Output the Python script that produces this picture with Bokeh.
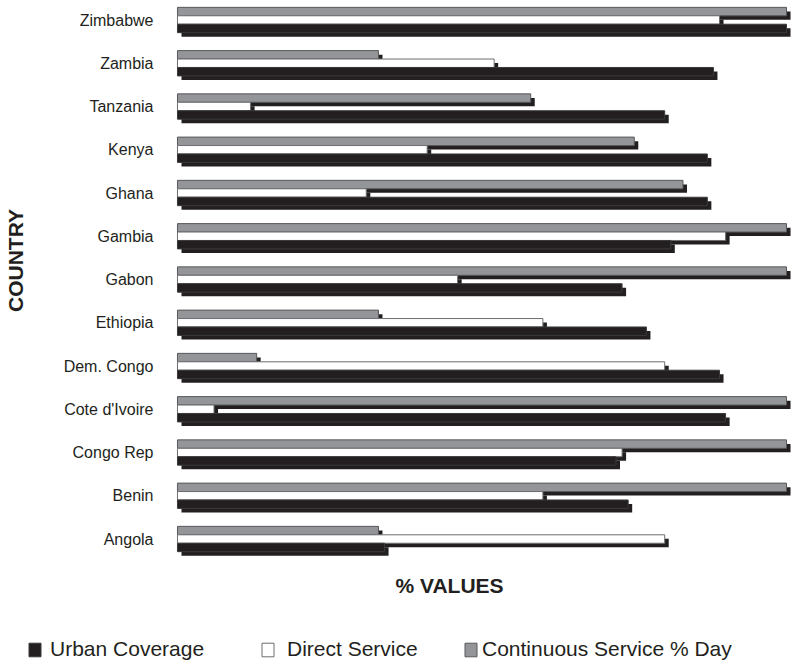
from math import pi

from bokeh.core.properties import value
from bokeh.embed import file_html
from bokeh.models import ColumnDataSource, Label, Legend, LegendItem, Range1d
from bokeh.plotting import figure
from bokeh.resources import INLINE
from bokeh.transform import dodge

# Water service indicators by country (%)
countries = ["Zimbabwe", "Zambia", "Tanzania", "Kenya", "Ghana", "Gambia", "Gabon",
             "Ethiopia", "Dem. Congo", "Cote d'Ivoire", "Congo Rep", "Benin", "Angola"]
urban_coverage = [100, 88, 80, 87, 87, 81, 73, 77, 89, 90, 72, 74, 34]
direct_service = [89, 52, 12, 41, 31, 90, 46, 60, 80, 6, 73, 60, 80]
continuous_service = [100, 33, 58, 75, 83, 100, 100, 33, 13, 100, 100, 100, 33]

series_labels = ["Urban Coverage", "Direct Service", "Continuous Service % Day"]

FONT = "Liberation Sans"
INK = "#231f20"
BAR_H = 0.195         # bar thickness in row units
SHADOW_DX = 0.66      # drop-shadow offset along x (value units)
SHADOW_DY = -0.093    # drop-shadow offset along y (row units)

# first country on top: row index counts up from the bottom
rows = [len(countries) - 1 - i for i in range(len(countries))]

source = ColumnDataSource(dict(
    country=countries,
    row=rows,
    urban=urban_coverage,
    direct=direct_service,
    continuous=continuous_service,
))

# the plotting frame spans the whole canvas; labels and legend sit in its margins
p = figure(
    width=791, height=662,
    x_range=Range1d(-29.06, 100.82),
    y_range=Range1d(-2.855, 12.451),
    output_backend="svg", toolbar_location=None,
    min_border=0,
)
p.outline_line_color = None
p.grid.visible = False
p.axis.visible = False

# top-to-bottom inside each group: continuous (grey), direct (white), urban (black)
layers = [
    ("continuous", BAR_H, "#939598", "#58595b", series_labels[2]),
    ("direct", 0.0, "#ffffff", "#6d6e71", series_labels[1]),
    ("urban", -BAR_H, INK, "#3a3a3c", series_labels[0]),
]

bar_renderers = {}
for field, offset, fill, line, label in layers:
    p.hbar(y=dodge("row", offset + SHADOW_DY), left=SHADOW_DX,
           right=dodge(field, SHADOW_DX), height=BAR_H,
           source=source, fill_color=INK, line_color=None)
    r = p.hbar(y=dodge("row", offset), left=0, right=field, height=BAR_H,
               source=source, fill_color=fill, line_color=line, line_width=1)
    bar_renderers[label] = r

# country names to the left of the bars
p.text(x=0, y="row", text="country", source=source, x_offset=-24,
       text_align="right", text_baseline="middle", text_font=value(FONT),
       text_font_size="16px", text_color=INK)

# axis titles
p.add_layout(Label(x=15, y=662 - 260, x_units="screen", y_units="screen",
                   text="COUNTRY", angle=pi / 2, text_align="center",
                   text_baseline="middle", text_font=FONT, text_font_style="bold",
                   text_font_size="21px", text_color=INK))
p.add_layout(Label(x=449, y=662 - 585, x_units="screen", y_units="screen",
                   text="% VALUES", text_align="center", text_baseline="middle",
                   text_font=FONT, text_font_style="bold", text_font_size="21px",
                   text_color=INK))

# legend row along the bottom: (glyph box left edge, label left edge) per entry
GLYPH_W, GLYPH_H = 15, 17
legend_pos = [(27, 50), (260, 287), (463, 482)]
for lbl, (box_x, txt_x) in zip(series_labels, legend_pos):
    leg = Legend(items=[LegendItem(label=lbl, renderers=[bar_renderers[lbl]])],
                 location=(box_x, 1), orientation="horizontal",
                 background_fill_alpha=0, border_line_alpha=0,
                 padding=0, margin=0, glyph_width=GLYPH_W, glyph_height=GLYPH_H,
                 label_standoff=int(txt_x - box_x - GLYPH_W),
                 label_text_font=FONT, label_text_font_size="21px",
                 label_text_color=INK)
    p.add_layout(leg, "center")

open("out.html", "w").write(file_html(p, INLINE))
